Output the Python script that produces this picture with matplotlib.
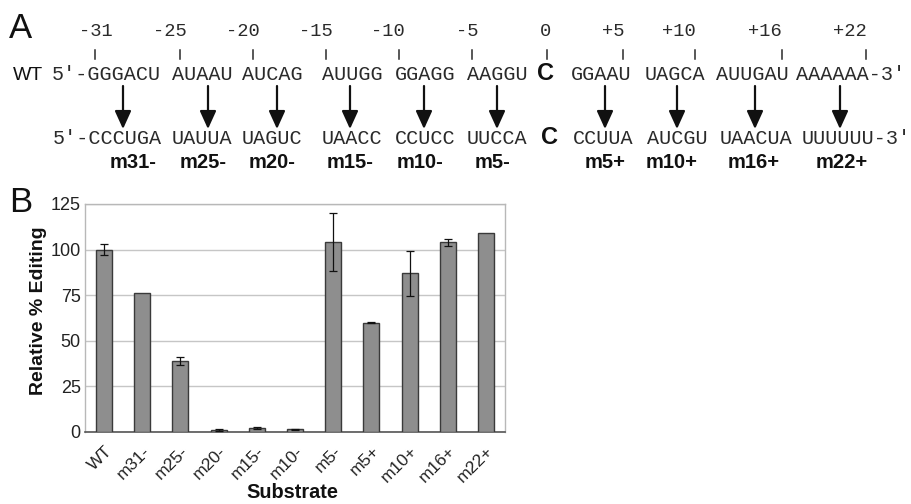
import matplotlib
matplotlib.use("Agg")
import matplotlib.pyplot as plt
import numpy as np

# ---------------- Data ----------------
substrates = ["WT", "m31-", "m25-", "m20-", "m15-", "m10-", "m5-", "m5+", "m10+", "m16+", "m22+"]
rel_editing = [100, 76, 39, 1, 2, 1.5, 104, 60, 87, 104, 109]
err = [3, 0, 2, 0.5, 0.5, 0.4, 16, 0.3, 12.5, 2, 0]

pos_labels = ["-31", "-25", "-20", "-15", "-10", "-5", "0", "+5", "+10", "+16", "+22"]
wt_words = ["5\u2032-GGGACU", "AUAAU", "AUCAG", "AUUGG", "GGAGG", "AAGGU", "GGAAU", "UAGCA", "AUUGAU", "AAAAAA-3\u2032"]
mut_words = ["5\u2032-CCCUGA", "UAUUA", "UAGUC", "UAACC", "CCUCC", "UUCCA", "CCUUA", "AUCGU", "UAACUA", "UUUUUU-3\u2032"]
mut_names = ["m31-", "m25-", "m20-", "m15-", "m10-", "m5-", "m5+", "m10+", "m16+", "m22+"]
edited_base = "C"

# ---------------- Layout (pixel positions in panel A) ----------------
W, H = 912, 504
num_x = [96, 170, 243, 316, 388, 467, 546, 613, 679, 765, 850]
tick_x = [95, 180, 253, 326, 399, 472, 547, 623, 695, 782, 866]
wt_x = [106, 202, 272, 352, 425, 497, 601, 675, 752, 851]
mut_x = [107, 202, 272, 352, 425, 497, 603, 677, 756, 856]
arrow_x = [123, 208, 277, 350, 424, 497, 605, 677, 755, 840]
name_x = [133, 203, 272, 350, 420, 493, 605, 672, 754, 842]

mono = "Liberation Mono"
sans = "Liberation Sans"
seq_color = "#2a2a2a"

fig = plt.figure(figsize=(W / 100, H / 100), dpi=100)

# overlay for panel A text in pixel coordinates
ov = fig.add_axes([0, 0, 1, 1])
ov.set_xlim(0, W)
ov.set_ylim(H, 0)
ov.axis("off")

ov.text(9, 28, "A", fontsize=25, family=sans, ha="left", va="center", color="#111")
ov.text(9, 202, "B", fontsize=25, family=sans, ha="left", va="center", color="#111")

for x, s in zip(num_x, pos_labels):
    ov.text(x, 31, s, fontsize=13.5, family=mono, ha="center", va="center", color=seq_color)
for x in tick_x:
    ov.plot([x, x], [50, 59], color=seq_color, lw=1.1)

ov.text(28, 75, "WT", fontsize=14, family=sans, ha="center", va="center", color="#111")
for x, s in zip(wt_x, wt_words):
    ov.text(x, 75, s, fontsize=14.5, family=mono, ha="center", va="center", color=seq_color)
for x, s in zip(mut_x, mut_words):
    ov.text(x, 139, s, fontsize=14.5, family=mono, ha="center", va="center", color=seq_color)
ov.text(546, 74, edited_base, fontsize=17, family=sans, weight="bold", ha="center", va="center", color="#111")
ov.text(550, 138, edited_base, fontsize=17, family=sans, weight="bold", ha="center", va="center", color="#111")

for x in arrow_x:
    ov.annotate("", xy=(x, 129), xytext=(x, 86),
                arrowprops=dict(arrowstyle="-|>,head_length=1.1,head_width=0.5",
                                color="#111", lw=1.6, shrinkA=0, shrinkB=0))
for x, s in zip(name_x, mut_names):
    ov.text(x, 163, s, fontsize=14.5, family=sans, weight="bold", ha="center", va="center", color="#111")

# ---------------- Panel B ----------------
ax = fig.add_axes([85 / W, 1 - 432 / H, (505 - 85) / W, (432 - 204) / H])
xs = np.arange(len(substrates))
vals = np.array(rel_editing, dtype=float)
errs = np.array(err, dtype=float)
ax.bar(xs, vals, width=0.42, color="#8e8e8e", edgecolor="#3a3a3a", linewidth=1.0, zorder=3)
has_err = errs > 0
ax.errorbar(xs[has_err], vals[has_err], yerr=errs[has_err], fmt="none", ecolor="#111",
            elinewidth=0.9, capsize=3, capthick=0.9, zorder=4)

ax.set_xlim(-0.5, len(substrates) - 0.5)
ax.set_ylim(0, 125)
ax.set_yticks([0, 25, 50, 75, 100, 125])
ax.set_yticklabels(["0", "25", "50", "75", "100", "125"])
ax.yaxis.grid(True, color="#c6c6c6", lw=1.0, zorder=0)
ax.set_axisbelow(True)
ax.tick_params(axis="y", length=0, pad=3, labelsize=13, labelcolor="#222")
ax.tick_params(axis="x", length=0, pad=8, labelsize=12.5, labelcolor="#222")
ax.set_xticks(xs)
ax.set_xticklabels(substrates, rotation=45, ha="right", rotation_mode="anchor", family=sans)
for lab in ax.get_yticklabels():
    lab.set_family(sans)

for side in ("top", "right", "left"):
    ax.spines[side].set_color("#b8b8b8")
    ax.spines[side].set_linewidth(1.0)
ax.spines["bottom"].set_color("#555")
ax.spines["bottom"].set_linewidth(1.2)

ax.set_ylabel("Relative % Editing", fontsize=14, weight="bold", family=sans, color="#111", va="center")
ax.yaxis.set_label_coords((39 - 85) / 420, (432 - 311) / 228)
ax.set_xlabel("Substrate", fontsize=14.3, weight="bold", family=sans, color="#111", va="center")
ax.xaxis.set_label_coords((292 - 85) / 420, (432 - 493) / 228)

fig.savefig("out.png", dpi=100)
